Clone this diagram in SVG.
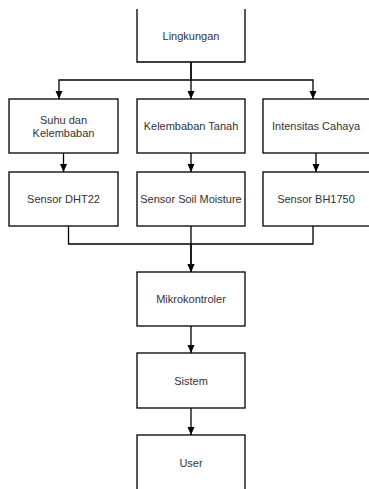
<svg xmlns="http://www.w3.org/2000/svg" width="369" height="489" viewBox="0 0 369 489">
<style>
.box{fill:#fff;stroke:#000;stroke-width:1.3}
.lbl{font-family:"Liberation Sans",Arial,sans-serif;font-size:11px;fill:#333;text-anchor:middle;dominant-baseline:central}
.edge{fill:none;stroke:#000;stroke-width:1.3}
</style>
<defs>
<marker id="arr" markerUnits="userSpaceOnUse" markerWidth="8" markerHeight="8" viewBox="0 0 8 8" refX="8" refY="4" orient="auto">
<path d="M0,0.5 L8,4 L0,7.5 Z" fill="#000"/>
</marker>
</defs>
<rect width="369" height="489" fill="#fff"/>
<g id="connectors">
<path class="edge" d="M191,62 V80 H59 V99" marker-end="url(#arr)"/>
<path class="edge" d="M191,62 V99" marker-end="url(#arr)"/>
<path class="edge" d="M191,80 H313 V99" marker-end="url(#arr)"/>
<path class="edge" d="M63.5,153 V172" marker-end="url(#arr)"/>
<path class="edge" d="M191,153 V172" marker-end="url(#arr)"/>
<path class="edge" d="M316,153 V172" marker-end="url(#arr)"/>
<path class="edge" d="M68.5,226 V244 H191 V272" marker-end="url(#arr)"/>
<path class="edge" d="M191,226 V272" marker-end="url(#arr)"/>
<path class="edge" d="M313,226 V244 H191"/>
<path class="edge" d="M191,326 V353" marker-end="url(#arr)"/>
<path class="edge" d="M191,408 V435" marker-end="url(#arr)"/>
</g>
<g id="lingkungan">
<path class="box" d="M137,9 V62 H245 V9"/>
<text class="lbl" x="191" y="36">Lingkungan</text>
</g>
<g id="suhu">
<rect class="box" x="9" y="99" width="109" height="54"/>
<text class="lbl" x="63.5" y="120">Suhu dan</text>
<text class="lbl" x="63.5" y="133">Kelembaban</text>
</g>
<g id="tanah">
<rect class="box" x="137" y="99" width="108" height="54"/>
<text class="lbl" x="191" y="126">Kelembaban Tanah</text>
</g>
<g id="cahaya">
<rect class="box" x="263" y="99" width="108" height="54"/>
<text class="lbl" x="316" y="126">Intensitas Cahaya</text>
</g>
<g id="dht22">
<rect class="box" x="9" y="172" width="109" height="54"/>
<text class="lbl" x="63.5" y="199">Sensor DHT22</text>
</g>
<g id="soil">
<rect class="box" x="137" y="172" width="108" height="54"/>
<text class="lbl" x="191" y="199">Sensor Soil Moisture</text>
</g>
<g id="bh1750">
<rect class="box" x="263" y="172" width="108" height="54"/>
<text class="lbl" x="316" y="199">Sensor BH1750</text>
</g>
<g id="mikro">
<rect class="box" x="137" y="272" width="108" height="54"/>
<text class="lbl" x="191" y="299">Mikrokontroler</text>
</g>
<g id="sistem">
<rect class="box" x="137" y="353" width="108" height="55"/>
<text class="lbl" x="191" y="381">Sistem</text>
</g>
<g id="user">
<rect class="box" x="137" y="435" width="108" height="60"/>
<text class="lbl" x="191" y="463">User</text>
</g>
</svg>
